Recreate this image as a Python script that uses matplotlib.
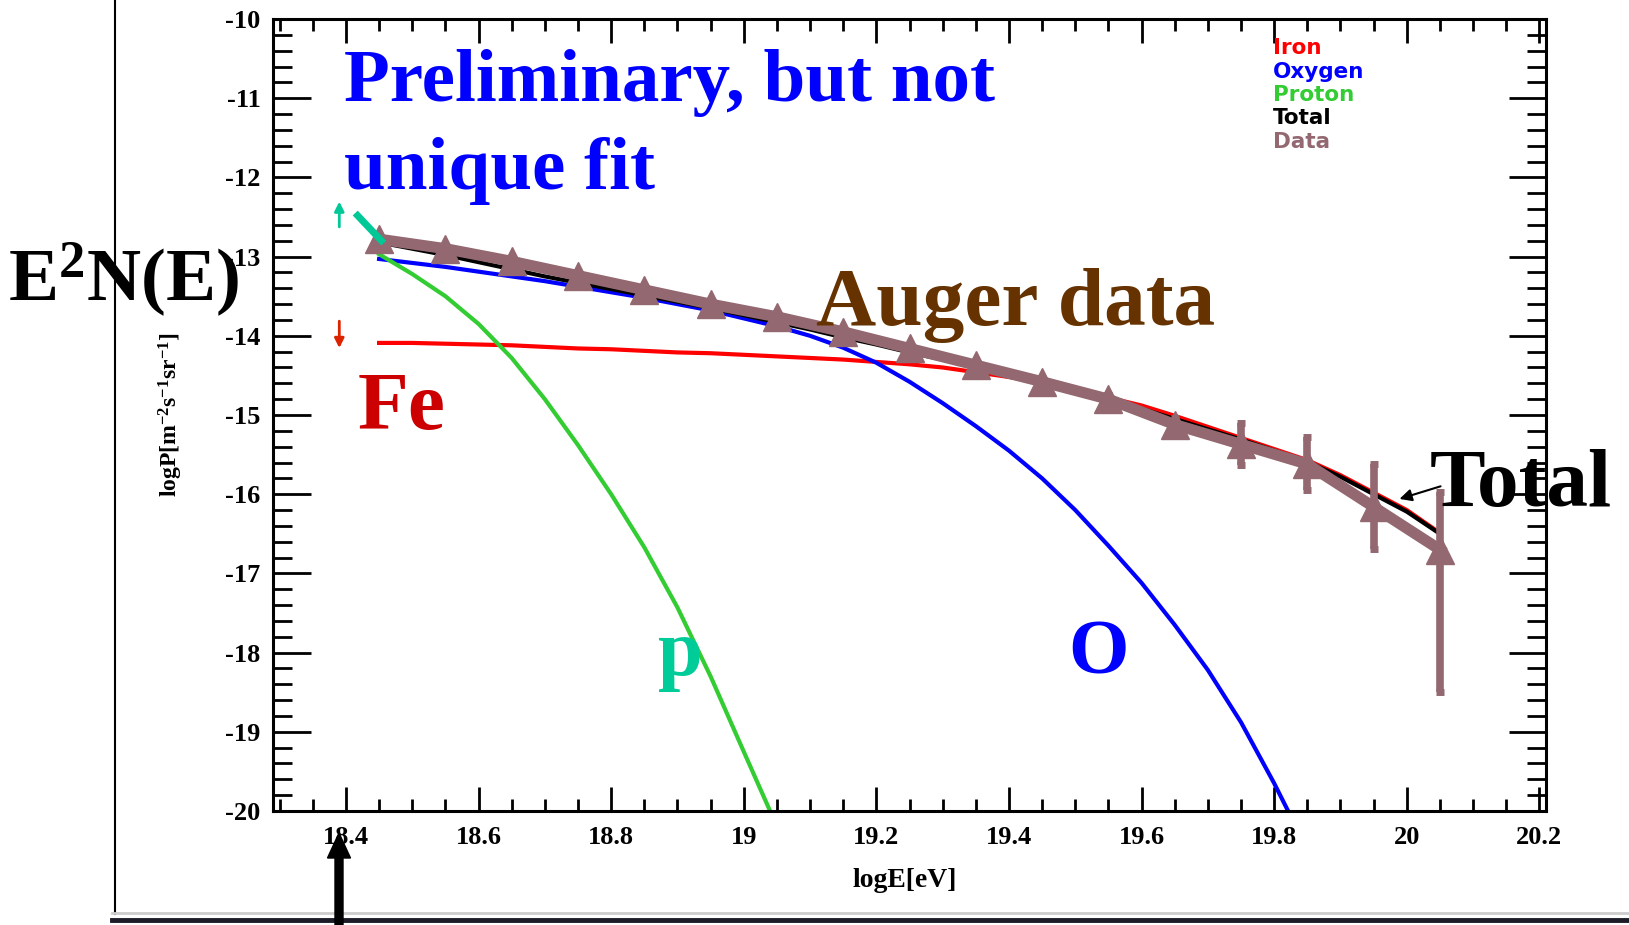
import matplotlib
matplotlib.use("Agg")
import matplotlib.pyplot as plt
from matplotlib.patches import FancyArrow
from matplotlib.lines import Line2D
from matplotlib.ticker import MultipleLocator, FuncFormatter

plt.rcParams["font.family"] = ["Liberation Serif", "DejaVu Serif"]
plt.rcParams["font.weight"] = "bold"
plt.rcParams["axes.labelweight"] = "bold"
plt.rcParams["axes.unicode_minus"] = False
plt.rcParams["mathtext.fontset"] = "custom"
plt.rcParams["mathtext.rm"] = "Liberation Serif:weight=bold"
plt.rcParams["mathtext.it"] = "Liberation Serif:weight=bold"
plt.rcParams["mathtext.bf"] = "Liberation Serif:weight=bold"
plt.rcParams["mathtext.default"] = "rm"

# ---------------- data ----------------
# measured spectrum (log10 E, log10 E^2 N(E)) with asymmetric errors
data_logE = [18.45, 18.55, 18.65, 18.75, 18.85, 18.95, 19.05, 19.15, 19.25,
             19.35, 19.45, 19.55, 19.65, 19.75, 19.85, 19.95, 20.05]
data_logP = [-12.78, -12.90, -13.06, -13.24, -13.42, -13.60, -13.76, -13.95, -14.16,
             -14.37, -14.58, -14.80, -15.12, -15.37, -15.62, -16.16, -16.70]
data_err_lo = [0.02, 0.02, 0.02, 0.02, 0.02, 0.02, 0.02, 0.03, 0.03,
               0.03, 0.04, 0.05, 0.08, 0.26, 0.33, 0.53, 1.80]
data_err_hi = [0.02, 0.02, 0.02, 0.02, 0.02, 0.02, 0.02, 0.03, 0.03,
               0.03, 0.04, 0.05, 0.08, 0.27, 0.34, 0.54, 0.73]

# model components
grid_logE = [18.45, 18.50, 18.55, 18.60, 18.65, 18.70, 18.75, 18.80, 18.85, 18.90, 18.95,
             19.00, 19.05, 19.10, 19.15, 19.20, 19.25, 19.30, 19.35, 19.40, 19.45, 19.50,
             19.55, 19.60, 19.65, 19.70, 19.75, 19.80, 19.85, 19.90, 19.95, 20.00, 20.05]
iron_logP = [-14.09, -14.09, -14.10, -14.11, -14.12, -14.14, -14.16, -14.17, -14.19, -14.21, -14.22,
             -14.24, -14.26, -14.28, -14.30, -14.33, -14.36, -14.40, -14.46, -14.52, -14.59, -14.68,
             -14.78, -14.88, -15.01, -15.15, -15.29, -15.43, -15.57, -15.76, -15.98, -16.20, -16.49]
total_logP = [-12.82, -12.90, -12.98, -13.07, -13.16, -13.25, -13.33, -13.41, -13.49, -13.57, -13.65,
              -13.74, -13.83, -13.92, -14.02, -14.11, -14.21, -14.30, -14.40, -14.50, -14.60, -14.70,
              -14.81, -14.92, -15.05, -15.18, -15.31, -15.45, -15.59, -15.78, -16.00, -16.22, -16.50]

oxygen_logE = [18.45, 18.50, 18.55, 18.60, 18.65, 18.70, 18.75, 18.80, 18.85, 18.90, 18.95,
               19.00, 19.05, 19.10, 19.15, 19.20, 19.25, 19.30, 19.35, 19.40, 19.45, 19.50,
               19.55, 19.60, 19.65, 19.70, 19.75, 19.80, 19.83]
oxygen_logP = [-13.03, -13.08, -13.13, -13.19, -13.25, -13.31, -13.38, -13.45, -13.52, -13.60, -13.68,
               -13.78, -13.88, -14.00, -14.15, -14.34, -14.58, -14.85, -15.14, -15.45, -15.80, -16.20,
               -16.65, -17.12, -17.65, -18.22, -18.88, -19.65, -20.15]

proton_logE = [18.45, 18.50, 18.55, 18.60, 18.65, 18.70, 18.75, 18.80, 18.85, 18.90, 18.95,
               19.00, 19.045]
proton_logP = [-12.97, -13.22, -13.50, -13.85, -14.28, -14.80, -15.38, -16.00, -16.67, -17.43, -18.30,
               -19.25, -20.10]

legend_names = ["Iron", "Oxygen", "Proton", "Total", "Data"]

C_IRON = "#FF0000"
C_OXY = "#0000FF"
C_PROT = "#33CC33"
C_TOT = "#000000"
C_DATA = "#936870"
C_TEAL = "#00C896"

W, H = 1629, 925


def fx(px):
    return px / W


def fy(py):
    return 1 - py / H


fig = plt.figure(figsize=(W / 100, H / 100), dpi=100)
ax = fig.add_axes([fx(273), fy(811), (1546 - 273) / W, (811 - 19) / H])

# ---------------- curves ----------------
ax.plot(grid_logE, iron_logP, color=C_IRON, lw=3)
ax.plot(oxygen_logE, oxygen_logP, color=C_OXY, lw=3)
ax.plot(proton_logE, proton_logP, color=C_PROT, lw=3)
ax.plot(grid_logE, total_logP, color=C_TOT, lw=3)

ax.errorbar(data_logE, data_logP, yerr=[data_err_lo, data_err_hi],
            fmt="-^", color=C_DATA, lw=8, ms=20, elinewidth=5.5,
            capsize=3, capthick=5, zorder=5)

ax.set_xlim(18.29, 20.21)
ax.set_ylim(-20, -10)

ax.xaxis.set_major_locator(MultipleLocator(0.2))
ax.xaxis.set_minor_locator(MultipleLocator(0.05))
ax.yaxis.set_major_locator(MultipleLocator(1))
ax.yaxis.set_minor_locator(MultipleLocator(0.2))
fmt = FuncFormatter(lambda v, p: f"{v:g}")
ax.xaxis.set_major_formatter(fmt)
ax.yaxis.set_major_formatter(fmt)

ax.tick_params(axis="both", which="both", direction="in", top=True, right=True,
               width=2, labelsize=19)
ax.tick_params(axis="x", which="major", length=17, pad=11)
ax.tick_params(axis="x", which="minor", length=8.5)
ax.tick_params(axis="y", which="major", length=27, pad=9)
ax.tick_params(axis="y", which="minor", length=14)
for sp in ax.spines.values():
    sp.set_linewidth(2.2)

ax.set_xlabel("logE[eV]", fontsize=20, fontweight="bold")
ax.xaxis.set_label_coords(0.496, -0.072)
ax.set_ylabel(r"logP[m$^{-2}$s$^{-1}$sr$^{-1}$]", fontsize=17, fontweight="bold")
ax.yaxis.set_label_coords(-0.069, 0.5)

# ---------------- markers on the plot ----------------
ax.annotate("", xy=(18.39, -12.27), xytext=(18.39, -12.66),
            arrowprops=dict(arrowstyle="-|>", color=C_TEAL, lw=2, mutation_scale=14))
ax.plot([18.414, 18.457], [-12.45, -12.83], color=C_TEAL, lw=5,
        solid_capstyle="butt", zorder=6)
ax.annotate("", xy=(18.39, -14.19), xytext=(18.39, -13.78),
            arrowprops=dict(arrowstyle="-|>", color="#DD2200", lw=2, mutation_scale=14))
ax.annotate("", xy=(19.985, -16.07), xytext=(20.055, -15.89),
            arrowprops=dict(arrowstyle="-|>", color="black", lw=1.5, mutation_scale=18),
            annotation_clip=False)

# legend entries
legend_colors = [C_IRON, C_OXY, C_PROT, C_TOT, C_DATA]
for i, (name, col) in enumerate(zip(legend_names, legend_colors)):
    fig.text(fx(1273), fy(48 + 23.5 * i), name, color=col, fontsize=15.5,
             family="DejaVu Sans", weight="bold", va="center", ha="left")

# ---------------- annotations ----------------
fig.text(fx(344), fy(101), "Preliminary, but not", color="#0000FF",
         fontsize=54, va="baseline", ha="left")
fig.text(fx(344), fy(189), "unique fit", color="#0000FF",
         fontsize=54, va="baseline", ha="left")
fig.text(fx(816), fy(325), "Auger data", color="#663300", fontsize=60,
         va="baseline", ha="left")
fig.text(fx(358), fy(429), "Fe", color="#CC0000", fontsize=60,
         va="baseline", ha="left")
fig.text(fx(658), fy(675), "p", color="#00CC99", fontsize=58,
         va="baseline", ha="left")
fig.text(fx(1068), fy(673), "O", color="#0000FF", fontsize=56,
         va="baseline", ha="left")
fig.text(fx(1430), fy(506), "Total", color="black", fontsize=60,
         va="baseline", ha="left")
fig.text(fx(8), fy(301), r"E$^{2}$N(E)", color="black", fontsize=54,
         va="baseline", ha="left")

# slide frame lines and the pointer under 18.4
fig.add_artist(Line2D([fx(115), fx(115)], [fy(914), fy(0)], transform=fig.transFigure,
                      color="black", lw=1.5, zorder=10))
fig.add_artist(Line2D([fx(112), fx(1629)], [fy(913), fy(913)], transform=fig.transFigure,
                      color="#CCCCCC", lw=2, zorder=10))
fig.add_artist(Line2D([fx(112), fx(1629)], [fy(920), fy(920)], transform=fig.transFigure,
                      color="#1C1C28", lw=3.5, zorder=10))
fig.add_artist(FancyArrow(3.39, 0.0, 0, 0.92, width=0.08, head_width=0.23,
                          head_length=0.25, length_includes_head=True,
                          transform=fig.dpi_scale_trans, color="black", zorder=11))

fig.savefig("out.png", dpi=100)
